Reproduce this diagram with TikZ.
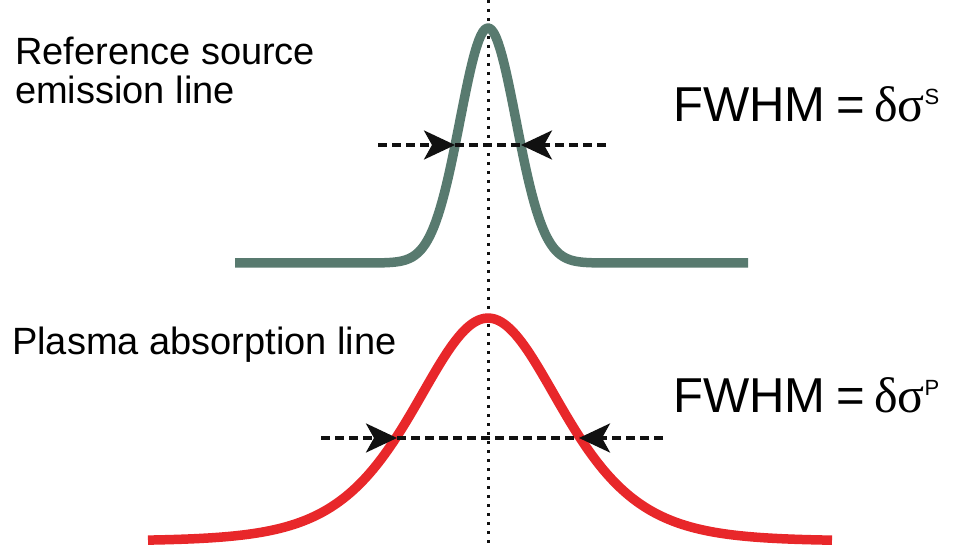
\documentclass[tikz,border=0pt]{standalone}
\usepackage{fontspec}
\setmainfont{Liberation Sans}
\newfontfamily\greekserif{Liberation Serif}
\usepackage{tikz}
\usetikzlibrary{arrows.meta,positioning}
\definecolor{emission}{HTML}{587A6F}
\definecolor{absorption}{HTML}{E8272A}
\definecolor{ink}{HTML}{111111}

\tikzset{
  profile/.style={line width=9.5pt,line join=round},
  widthline/.style={ink,line width=3.5pt,dash pattern=on 9pt off 5pt},
  widtharrow/.style={widthline,-{Stealth[length=31pt,width=29pt,inset=8pt]}},
  linelabel/.style={inner sep=0pt,align=left,font=\fontsize{38}{39}\selectfont},
  fwhmlabel/.style={inner sep=0pt,font=\fontsize{49}{52}\selectfont}
}
\newcommand{\fwhmeq}[1]{FWHM\hspace{11pt}=\hspace{9pt}{\greekserif\fontsize{50}{52}\selectfont δσ}{\fontsize{22}{24}\selectfont\raisebox{17pt}{#1}}}

\begin{document}
\begin{tikzpicture}[x=1pt,y=-1pt]
  \useasboundingbox (0,0) rectangle (954,548);
  % line centre
  \coordinate (top) at (488,0);
  \coordinate (bottom) at (488,548);
  \draw[ink,line width=3pt,dash pattern=on 3pt off 6pt] (top) -- (bottom);
  % reference source: narrow profile
  \draw[profile,emission] plot[domain=235:748,samples=241] (\x,{263-235*exp(-0.5*((\x-488)/28)^2)});
  % plasma: broad profile
  \draw[profile,absorption] plot[domain=148:832,samples=241] (\x,{541-223/cosh(0.01016*(\x-488))^2});
  % widths
  \coordinate (sL) at (378,145);
  \coordinate (sHL) at (455,145);
  \coordinate (sHR) at (521,145);
  \coordinate (sR) at (606,145);
  \draw[widtharrow] (sL) -- (sHL);
  \draw[widthline] (sHL) -- (sHR);
  \draw[widtharrow] (sR) -- (sHR);
  \coordinate (pL) at (321,438);
  \coordinate (pHL) at (397,438);
  \coordinate (pHR) at (579,438);
  \coordinate (pR) at (663,438);
  \draw[widtharrow] (pL) -- (pHL);
  \draw[widthline] (pHL) -- (pHR);
  \draw[widtharrow] (pR) -- (pHR);
  % labels
  \node[linelabel,anchor=north west] (srcText) at (15,37) {Reference source\\emission line};
  \node[linelabel,anchor=base west] (plasmaText) at (12,354) {Plasma absorption line};
  \node[fwhmlabel,anchor=base west] (fwhmS) at (673,122) {\fwhmeq{S}};
  \node[fwhmlabel,anchor=base west] (fwhmP) at (673,412) {\fwhmeq{P}};
\end{tikzpicture}
\end{document}
